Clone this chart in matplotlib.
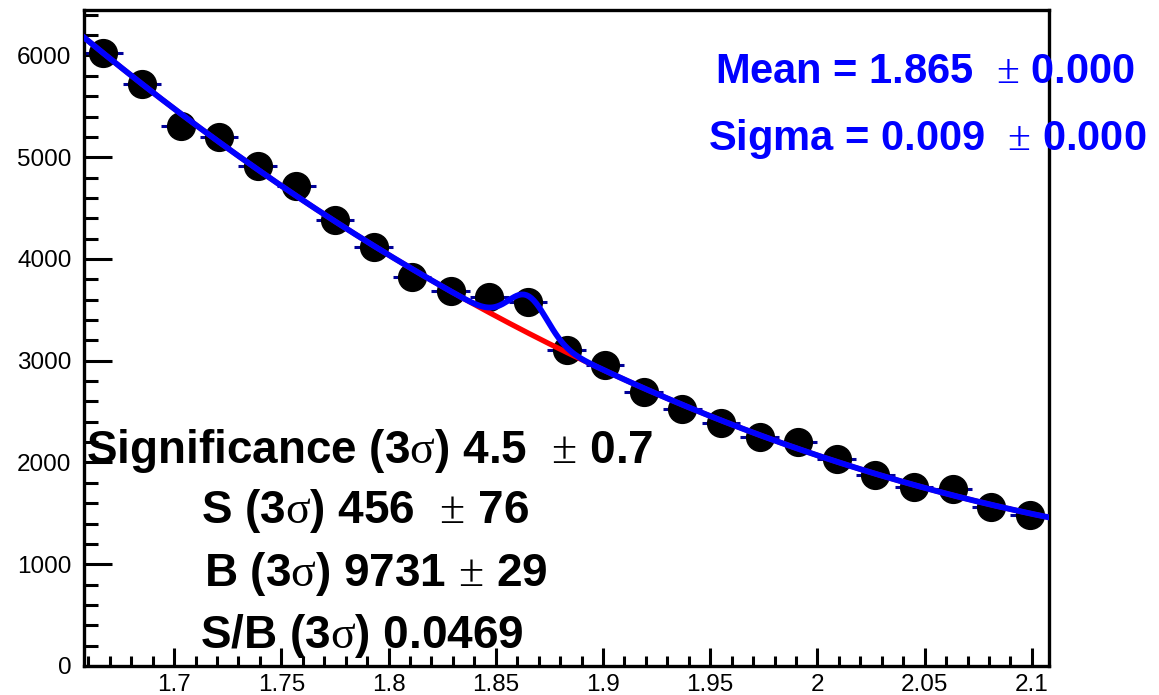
import numpy as np
import matplotlib
matplotlib.use("Agg")
import matplotlib.pyplot as plt
from matplotlib.ticker import MultipleLocator

plt.rcParams['font.family'] = ['Liberation Sans', 'DejaVu Sans']
plt.rcParams['mathtext.fontset'] = 'custom'
plt.rcParams['mathtext.rm'] = 'Liberation Serif'

# histogram (bin width 0.018)
bin_centers = [1.667, 1.685, 1.703, 1.721, 1.739, 1.757, 1.775, 1.793, 1.811,
               1.829, 1.847, 1.865, 1.883, 1.901, 1.919, 1.937, 1.955, 1.973,
               1.991, 2.009, 2.027, 2.045, 2.063, 2.081, 2.099]
counts = [6027, 5720, 5307, 5202, 4917, 4720, 4383, 4121, 3820, 3686, 3624,
          3574, 3106, 2955, 2696, 2524, 2391, 2248, 2204, 2031, 1877, 1756,
          1740, 1566, 1484]
bin_width = 0.018
x_range = (1.658, 2.108)

fit_mean = 1.865
fit_sigma = 0.009
sig_3s = 456

x = np.array(bin_centers)
y = np.array(counts, dtype=float)

# gaussian peak scaled to the signal yield, background from a poly fit
amp = sig_3s / 0.9973 * bin_width / (np.sqrt(2 * np.pi) * fit_sigma)
def gaus(t):
    return amp * np.exp(-0.5 * ((t - fit_mean) / fit_sigma) ** 2)

coef = np.polyfit(x, y - gaus(x), 3, w=1 / np.sqrt(y))
xf = np.linspace(x_range[0], x_range[1], 400)
bkg = np.polyval(coef, xf)
total = bkg + gaus(xf)

fig = plt.figure(figsize=(11.59, 6.95), dpi=100)
ax = fig.add_axes([84 / 1159, 1 - 666 / 695, 965 / 1159, 656 / 695])

ax.errorbar(x, y, xerr=bin_width / 2, yerr=np.sqrt(y), fmt='none',
            ecolor='#000099', elinewidth=2.2, capsize=0, zorder=2)
ax.plot(x, y, 'o', color='black', markersize=20, zorder=3)
ax.plot(xf, bkg, color='#ff0000', linewidth=3.8, zorder=4)
ax.plot(xf, total, color='#0000ff', linewidth=4.2, zorder=5)

ax.set_xlim(*x_range)
ax.set_ylim(0, 6447)

xt = [1.7, 1.75, 1.8, 1.85, 1.9, 1.95, 2.0, 2.05, 2.1]
ax.set_xticks(xt)
ax.set_xticklabels(['1.7', '1.75', '1.8', '1.85', '1.9', '1.95', '2', '2.05', '2.1'])
ax.xaxis.set_minor_locator(MultipleLocator(0.01))
ax.set_yticks([0, 1000, 2000, 3000, 4000, 5000, 6000])
ax.yaxis.set_minor_locator(MultipleLocator(200))

ax.tick_params(which='both', direction='in', top=False, right=False,
               width=2.2, labelsize=17.5, color='black')
ax.xaxis.set_tick_params(which='major', length=13, pad=6)
ax.xaxis.set_tick_params(which='minor', length=7)
ax.yaxis.set_tick_params(which='major', length=20, pad=9)
ax.yaxis.set_tick_params(which='minor', length=10)
for s in ax.spines.values():
    s.set_linewidth(2.4)

W, H = 1159, 695
def ftext(px, py, s, **kw):
    fig.text(px / W, 1 - py / H, s, ha='center', va='baseline',
             fontweight='bold', **kw)

ftext(925, 83, r'Mean = %.3f  $\mathrm{\pm}$ 0.000' % fit_mean, color='#0000ff', fontsize=30)
ftext(927, 150, r'Sigma = %.3f  $\mathrm{\pm}$ 0.000' % fit_sigma, color='#0000ff', fontsize=30)

ftext(370, 463, r'Significance (3$\mathrm{\sigma}$) 4.5  $\mathrm{\pm}$ 0.7', color='black', fontsize=33)
ftext(365, 523, r'S (3$\mathrm{\sigma}$) 456  $\mathrm{\pm}$ 76', color='black', fontsize=33)
ftext(376, 586, r'B (3$\mathrm{\sigma}$) 9731 $\mathrm{\pm}$ 29', color='black', fontsize=33)
ftext(362, 648, r'S/B (3$\mathrm{\sigma}$) 0.0469', color='black', fontsize=33)

fig.savefig('out.png', dpi=100)
